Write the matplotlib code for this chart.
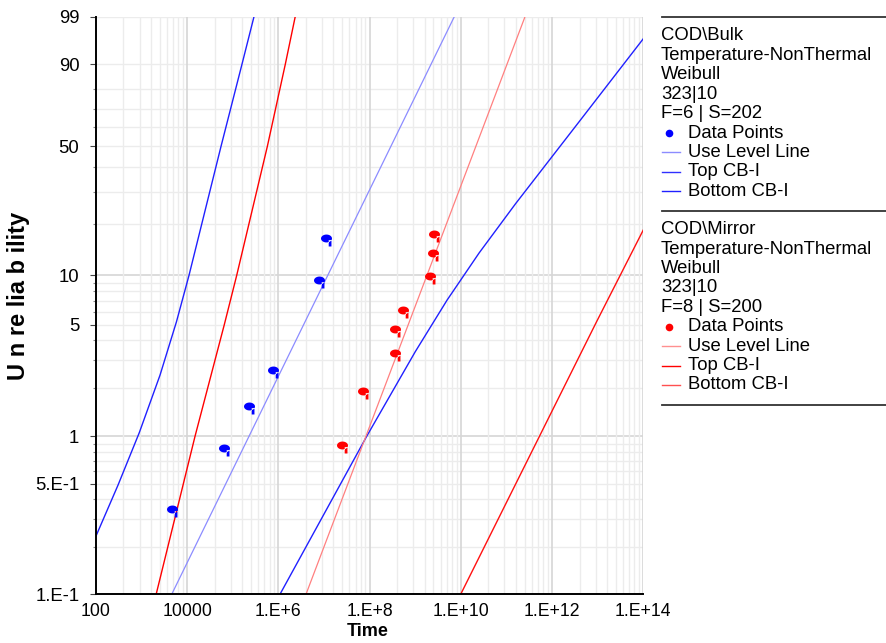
import numpy as np
import matplotlib
matplotlib.use("Agg")
import matplotlib.pyplot as plt
from matplotlib.path import Path

plt.rcParams['font.family'] = ['Liberation Sans', 'DejaVu Sans']

# COD\Bulk (blue) - time, unreliability [%]
bulk_pts_t = [4.63e3, 6.4e4, 2.3e5, 7.5e5, 7.8e6, 1.1e7]
bulk_pts_f = [0.347, 0.839, 1.552, 2.611, 9.38, 16.67]
bulk_use_t = [4.57e3, 7.18e9]
bulk_use_f = [0.1, 99]
bulk_top_t = [100, 303.4, 889.2, 2529, 5821, 1.094e4, 5.508e4, 1.589e5, 2.911e5]
bulk_top_f = [0.234, 0.491, 1.054, 2.422, 5.221, 10, 50, 90, 99]
bulk_bot_t = [1.081e6, 8.61e7, 1e9, 5.012e9, 2.512e10, 1.585e11, 3.981e12, 1e14]
bulk_bot_f = [0.1, 1, 3.398, 7.098, 13.6, 25.94, 63.2, 96.45]

# COD\Mirror (red)
mirror_pts_t = [2.415e7, 7.33e7, 3.6e8, 3.65e8, 5.47e8, 2.12e9, 2.39e9, 2.64e9]
mirror_pts_f = [0.884, 1.928, 3.334, 4.713, 6.158, 9.9, 13.65, 17.5]
mirror_use_t = [4.02e6, 2.55e11]
mirror_use_f = [0.1, 99]
mirror_top_t = [2084, 5984, 1.483e4, 6.501e4, 1.216e5, 5.715e5, 1.416e6, 2.333e6]
mirror_top_f = [0.1, 0.345, 1, 5, 10, 50, 90, 99]
mirror_bot_t = [9.91e9, 9.4e12, 1e14]
mirror_bot_f = [0.1, 5.2, 18.5]

x_ticks = [1e2, 1e4, 1e6, 1e8, 1e10, 1e12, 1e14]
x_labels = ['100', '10000', '1.E+6', '1.E+8', '1.E+10', '1.E+12', '1.E+14']
y_ticks = [0.1, 0.5, 1, 5, 10, 50, 90, 99]
y_labels = ['1.E-1', '5.E-1', '1', '5', '10', '50', '90', '99']

legend_blocks = [
    (['COD\\Bulk', 'Temperature-NonThermal', 'Weibull', '323|10', 'F=6 | S=202'],
     ['#0000ff', '#8c8cff', '#3030ff', '#2020ff']),
    (['COD\\Mirror', 'Temperature-NonThermal', 'Weibull', '323|10', 'F=8 | S=200'],
     ['#ff0000', '#ff9090', '#ff0000', '#ff5050']),
]
legend_items = ['Data Points', 'Use Level Line', 'Top CB-I', 'Bottom CB-I']


def fwd(f):
    f = np.clip(np.asarray(f, dtype=float), 1e-9, 100 - 1e-9)
    return np.log(-np.log(1 - f / 100.0))


def inv(w):
    return 100.0 * (1 - np.exp(-np.exp(np.asarray(w, dtype=float))))


# flag-like marker: ellipse with a short tail at the lower right
th = np.linspace(0, 2 * np.pi, 30)
ell = np.column_stack([np.cos(th), 0.72 * np.sin(th)])
tail = np.array([[0.4, -0.3], [0.9, -0.3], [0.9, -1.45], [0.4, -1.45], [0.4, -0.3]])
verts = np.vstack([ell, ell[:1], tail])
codes = ([Path.MOVETO] + [Path.LINETO] * (len(ell) - 1) + [Path.CLOSEPOLY]
         + [Path.MOVETO] + [Path.LINETO] * 3 + [Path.CLOSEPOLY])
flag = Path(verts, codes)

W, H = 886, 643
fig = plt.figure(figsize=(W / 100, H / 100), dpi=100)
ax = fig.add_axes([96 / W, 1 - 594.3 / H, (643.3 - 96) / W, (594.3 - 16.7) / H])
ax.set_xscale('log')
ax.set_yscale('function', functions=(fwd, inv))
ax.set_xlim(1e2, 1e14)
ax.set_ylim(0.1, 99)

# grid
light, dark = '#ececec', '#d6d6d6'
y_minor = [v / 10 for v in range(2, 10)] + list(range(2, 10)) + list(range(20, 100, 10)) + [99]
for v in y_minor:
    ax.axhline(v, color=light, lw=1, zorder=0)
for v in [1, 10]:
    ax.axhline(v, color=dark, lw=1.2, zorder=0)
for m in x_ticks[:-1]:
    for k in range(2, 10):
        ax.axvline(m * k * k, color=light, lw=1, zorder=0)
for v in x_ticks[1:]:
    ax.axvline(v, color=dark, lw=1.2, zorder=0)

# Bulk
ax.plot(bulk_use_t, bulk_use_f, color='#8c8cff', lw=0.9, zorder=2)
ax.plot(bulk_top_t, bulk_top_f, color='#2020ff', lw=1.0, zorder=2)
ax.plot(bulk_bot_t, bulk_bot_f, color='#2020ff', lw=1.0, zorder=2)
ax.plot(bulk_pts_t, bulk_pts_f, ls='none', marker=flag, ms=11.5, color='#0000ff',
        mec='none', zorder=3)

# Mirror
ax.plot(mirror_use_t, mirror_use_f, color='#ff8080', lw=0.9, zorder=2)
ax.plot(mirror_top_t, mirror_top_f, color='#ff0000', lw=1.0, zorder=2)
ax.plot(mirror_bot_t, mirror_bot_f, color='#ff1010', lw=1.0, zorder=2)
ax.plot(mirror_pts_t, mirror_pts_f, ls='none', marker=flag, ms=11.5, color='#ff0000',
        mec='none', zorder=3)

ax.set_xticks(x_ticks)
ax.set_xticklabels(x_labels)
ax.set_xticks([], minor=True)
ax.set_yticks(y_ticks)
ax.set_yticklabels(y_labels)
ax.set_yticks([v for v in y_minor if v not in y_ticks], minor=True)
ax.set_yticklabels([], minor=True)
ax.tick_params(axis='x', length=0, pad=6, labelsize=12.7)
ax.tick_params(axis='y', which='major', length=4, width=0.8, color='#444444', pad=8, labelsize=13.3)
ax.tick_params(axis='y', which='minor', length=2, width=0.8, color='#888888')

for s in ['top', 'right']:
    ax.spines[s].set_visible(False)
for s in ['left', 'bottom']:
    ax.spines[s].set_linewidth(1.4)
    ax.spines[s].set_color('black')

fig.text(368 / W, 1 - 631 / H, 'Time', ha='center', va='center', fontsize=13, fontweight='bold')
fig.text(19 / W, 1 - 296 / H, 'U n re lia b ility', ha='center', va='center', rotation=90,
         fontsize=17, fontweight='bold')

# legend panel drawn in pixel coordinates
lg = fig.add_axes([650 / W, 0, (W - 650) / W, 1])
lg.set_xlim(650, W)
lg.set_ylim(H, 0)
lg.axis('off')
step = 19.4
y0 = 17.3
for header, colors in legend_blocks:
    lg.plot([661.5, 886], [y0, y0], color='#333333', lw=1.3)
    y = y0 + 18.7
    for line in header:
        lg.text(661, y, line, va='center', ha='left', fontsize=13.3)
        y += step
    for i, (name, c) in enumerate(zip(legend_items, colors)):
        if i == 0:
            lg.plot([669], [y], marker='o', ms=5.5, color=c, mec='none')
        else:
            lg.plot([662, 680], [y, y], color=c, lw=1.0)
        lg.text(688, y, name, va='center', ha='left', fontsize=13.3)
        y += step
    y0 = y0 + 193.8
lg.plot([661.5, 886], [y0, y0], color='#333333', lw=1.3)

fig.savefig('out.png', dpi=100)
